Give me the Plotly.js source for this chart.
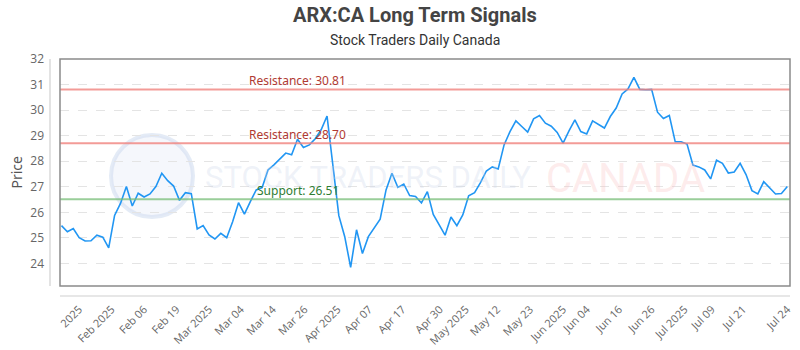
<!DOCTYPE html>
<html>
<head>
<meta charset="utf-8">
<script src="https://cdn.plot.ly/plotly-3.0.1.min.js"></script>
<style>html,body{margin:0;padding:0;background:#fff;}#chart{width:800px;height:350px;}</style>
</head>
<body>
<div id="chart"></div>
<script>
// Closing prices (evenly spaced sessions)
const prices = [
  25.48, 25.24, 25.37, 25.01, 24.88, 24.89, 25.11, 25.03, 24.61, 25.88,
  26.35, 27.01, 26.25, 26.75, 26.60, 26.72, 27.01, 27.53, 27.24, 27.03,
  26.47, 26.77, 26.73, 25.35, 25.48, 25.12, 24.96, 25.18, 25.01, 25.63,
  26.38, 25.93, 26.42, 26.88, 26.97, 27.66, 27.86, 28.09, 28.32, 28.25,
  28.86, 28.54, 28.64, 28.88, 29.23, 29.77, 27.90, 25.87, 25.05, 23.85,
  25.32, 24.39, 25.05, 25.38, 25.73, 26.88, 27.53, 26.98, 27.11, 26.66,
  26.62, 26.37, 26.81, 25.92, 25.53, 25.11, 25.82, 25.48, 25.90, 26.65,
  26.77, 27.16, 27.62, 27.78, 27.70, 28.64, 29.16, 29.58, 29.36, 29.14,
  29.66, 29.79, 29.49, 29.37, 29.13, 28.71, 29.19, 29.62, 29.16, 29.07,
  29.58, 29.43, 29.30, 29.75, 30.08, 30.63, 30.83, 31.28, 30.81, 30.80,
  30.81, 29.92, 29.67, 29.79, 28.76, 28.76, 28.67, 27.85, 27.78, 27.66,
  27.31, 28.04, 27.92, 27.54, 27.58, 27.92, 27.48, 26.85, 26.72, 27.20,
  26.95, 26.72, 26.74, 27.01
];
const sessions = prices.map((_, i) => i);

// Date tick labels and the session index each one sits at
const tickLabels = ["2025", "Feb 2025", "Feb 06", "Feb 19", "Mar 2025", "Mar 04", "Mar 14", "Mar 26",
  "Apr 2025", "Apr 07", "Apr 17", "Apr 30", "May 2025", "May 12", "May 23", "Jun 2025",
  "Jun 04", "Jun 16", "Jun 26", "Jul 2025", "Jul 09", "Jul 21", "Jul 24"];
const tickSessions = [3, 8.5, 14, 19.5, 25, 30.4, 35.8, 41.2, 46.8, 52.1, 57.8, 64.1, 68.5,
  73.8, 79.4, 85, 89, 94.5, 100, 105.6, 110.2, 115.5, 123];

// Signal levels
const levelNames = ["Resistance", "Resistance", "Support"];
const levelValues = [30.81, 28.70, 26.51];
const levelKinds = ["res", "res", "sup"];

const yTicks = [24, 25, 26, 27, 28, 29, 30, 31, 32];

const lineColor = {res: "rgba(240,130,125,0.8)", sup: "rgba(120,190,120,0.75)"};
const textColor = {res: "#b03a32", sup: "#2e7d32"};

const shapes = [];
const annotations = [];

// watermark
shapes.push({type: "circle", xref: "paper", yref: "paper",
  x0: (111 - 60) / 730, x1: (193 - 60) / 730, y0: (286 - 217) / 227, y1: (286 - 135) / 227,
  fillcolor: "rgba(225,233,245,0.35)", line: {color: "rgba(205,218,238,0.55)", width: 4}, layer: "below"});
annotations.push({xref: "paper", yref: "paper", x: (203 - 60) / 730, y: (286 - 177) / 227,
  xanchor: "left", yanchor: "middle", showarrow: false,
  text: "STOCK TRADERS DAILY",
  font: {family: "Roboto", size: 31, color: "rgba(200,212,232,0.3)"}});
annotations.push({xref: "paper", yref: "paper", x: (544 - 60) / 730, y: (286 - 178) / 227,
  xanchor: "left", yanchor: "middle", showarrow: false,
  text: "CANADA",
  font: {family: "Roboto", size: 40, color: "rgba(250,190,190,0.3)"}});

levelValues.forEach((v, i) => {
  const k = levelKinds[i];
  shapes.push({type: "line", xref: "paper", yref: "y", x0: 0, x1: 1, y0: v, y1: v,
    line: {color: lineColor[k], width: 2}, layer: "above"});
  annotations.push({xref: "paper", yref: "y", x: (298 - 60.3) / 730, y: v, yshift: 9,
    xanchor: "center", yanchor: "middle", showarrow: false,
    text: levelNames[i] + ": " + v.toFixed(2),
    font: {family: "Noto Sans", size: 12, color: textColor[k]}});
});

// plot border
shapes.push({type: "rect", xref: "paper", yref: "paper", x0: 0, x1: 1, y0: 0, y1: 1,
  line: {color: "#8a8a8a", width: 1.5}, layer: "above"});
// detached axis lines
shapes.push({type: "line", xref: "paper", yref: "paper", x0: (50 - 60) / 730, x1: (50 - 60) / 730, y0: 0, y1: 1,
  line: {color: "#d0d0d0", width: 1.2}});
shapes.push({type: "line", xref: "paper", yref: "paper", x0: 0, x1: 1, y0: -10 / 227, y1: -10 / 227,
  line: {color: "#d0d0d0", width: 1.2}});

// titles
annotations.push({xref: "paper", yref: "paper", x: 0.5 - 10 / 730, y: (286 - 15) / 227,
  xanchor: "center", yanchor: "middle", showarrow: false,
  text: "<b>ARX:CA Long Term Signals</b>",
  font: {family: "Roboto", size: 20, color: "#444"}});
annotations.push({xref: "paper", yref: "paper", x: 0.5 - 10 / 730, y: (286 - 40) / 227,
  xanchor: "center", yanchor: "middle", showarrow: false,
  text: "Stock Traders Daily Canada",
  font: {family: "Roboto", size: 14, color: "#333"}});
annotations.push({xref: "paper", yref: "paper", x: (16 - 60) / 730, y: 0.5,
  xanchor: "center", yanchor: "middle", showarrow: false, textangle: -90,
  text: "Price",
  font: {family: "Noto Sans", size: 14, color: "#555"}});

const trace = {
  x: sessions, y: prices, type: "scatter", mode: "lines",
  line: {color: "rgb(33,150,243)", width: 1.6},
  hoverinfo: "skip"
};

const layout = {
  width: 800, height: 350,
  margin: {l: 60, r: 10, t: 59, b: 64, pad: 0},
  paper_bgcolor: "#fff", plot_bgcolor: "#fff",
  showlegend: false,
  xaxis: {
    range: [-0.25, 123.45], tickmode: "array", tickvals: tickSessions, ticktext: tickLabels,
    tickangle: -45, showgrid: false, zeroline: false, showline: false, ticks: "",
    ticklabelstandoff: 14,
    tickfont: {family: "Open Sans", size: 11, color: "#666"}
  },
  yaxis: {
    range: [23.12, 32.0], tickmode: "array", tickvals: yTicks,
    showgrid: true, gridcolor: "#e4e4e4", griddash: "dash", gridwidth: 1,
    zeroline: false, showline: false, ticks: "", ticklabelstandoff: 15,
    tickfont: {family: "Open Sans", size: 12, color: "#666"}
  },
  shapes: shapes,
  annotations: annotations
};

Plotly.newPlot("chart", [trace], layout, {staticPlot: true, displayModeBar: false});
</script>
</body>
</html>
